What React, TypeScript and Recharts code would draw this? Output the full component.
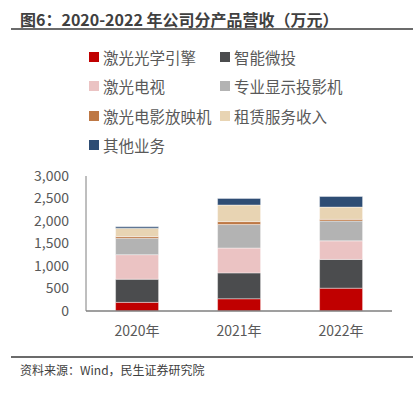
import { BarChart, Bar, XAxis, YAxis } from 'recharts'

const years = ['2020年', '2021年', '2022年']

const laserEngine = [192, 272, 507]
const smartProjector = [515, 575, 640]
const laserTv = [545, 552, 412]
const proDisplay = [367, 522, 441]
const cinemaProjector = [37, 66, 37]
const rentalService = [184, 368, 272]
const otherBusiness = [30, 147, 235]

const seriesNames = ['激光光学引擎', '智能微投', '激光电视', '专业显示投影机', '激光电影放映机', '租赁服务收入', '其他业务']
const seriesColors = ['#C00000', '#4B4C4E', '#EBC3C3', '#B3B3B3', '#BE7845', '#E8D4B3', '#2E4D74']
const seriesKeys = ['engine', 'micro', 'tv', 'pro', 'cinema', 'rental', 'other']
const seriesValues = [laserEngine, smartProjector, laserTv, proDisplay, cinemaProjector, rentalService, otherBusiness]

const yTicks = [0, 500, 1000, 1500, 2000, 2500, 3000]

const data = years.map((year, i) => {
  const row: Record<string, string | number> = { year }
  seriesKeys.forEach((k, s) => { row[k] = seriesValues[s][i] })
  return row
})

const font = '"Noto Sans CJK SC", "Noto Sans", sans-serif'

export default function App() {
  return (
    <div style={{ position: 'fixed', left: 0, top: 0, width: 413, height: 394, background: '#fff', fontFamily: font, overflow: 'hidden' }}>
      <div style={{ position: 'absolute', left: 20, top: 8, fontSize: 16, fontWeight: 700, color: '#404040', whiteSpace: 'nowrap', lineHeight: '22px' }}>
        图6：2020-2022 年公司分产品营收（万元）
      </div>
      <div style={{ position: 'absolute', left: 11, top: 28, width: 402, height: 2, background: '#6b6b6b' }} />

      {seriesNames.map((name, i) => (
        <div key={name} style={{ position: 'absolute', left: i % 2 === 0 ? 89 : 220, top: 57 + Math.floor(i / 2) * 29.3 - 10, height: 20, display: 'flex', alignItems: 'center', whiteSpace: 'nowrap' }}>
          <span style={{ width: 10, height: 10, background: seriesColors[i], display: 'inline-block', marginRight: 4 }} />
          <span style={{ fontSize: 15.5, color: '#595959' }}>{name}</span>
        </div>
      ))}

      <div style={{ position: 'absolute', left: 0, top: 0 }}>
        <BarChart width={413} height={394} data={data} margin={{ top: 176, right: 21, bottom: 53, left: 26 }} barCategoryGap="29%">
          <XAxis dataKey="year" height={30} tickLine={false} tickMargin={9} axisLine={{ stroke: '#7f7f7f', strokeWidth: 1.5 }} tick={{ fontSize: 14, fill: '#595959', fontFamily: font }} />
          <YAxis width={60} domain={[0, 3000]} ticks={yTicks} tickLine={false} tickMargin={11} axisLine={{ stroke: '#7f7f7f', strokeWidth: 1 }} tick={{ fontSize: 14, fill: '#595959', fontFamily: font }} tickFormatter={(v: number) => v.toLocaleString('en-US')} />
          {seriesKeys.map((k, i) => (
            <Bar key={k} dataKey={k} name={seriesNames[i]} stackId="a" fill={seriesColors[i]} stroke="#ffffff" strokeOpacity={0.5} strokeWidth={0.8} isAnimationActive={false} />
          ))}
        </BarChart>
      </div>

      <div style={{ position: 'absolute', left: 11, top: 356, width: 402, height: 2, background: '#6b6b6b' }} />
      <div style={{ position: 'absolute', left: 20, top: 361, fontSize: 12, color: '#404040', whiteSpace: 'nowrap', lineHeight: '18px' }}>
        资料来源：Wind，民生证券研究院
      </div>
    </div>
  )
}
